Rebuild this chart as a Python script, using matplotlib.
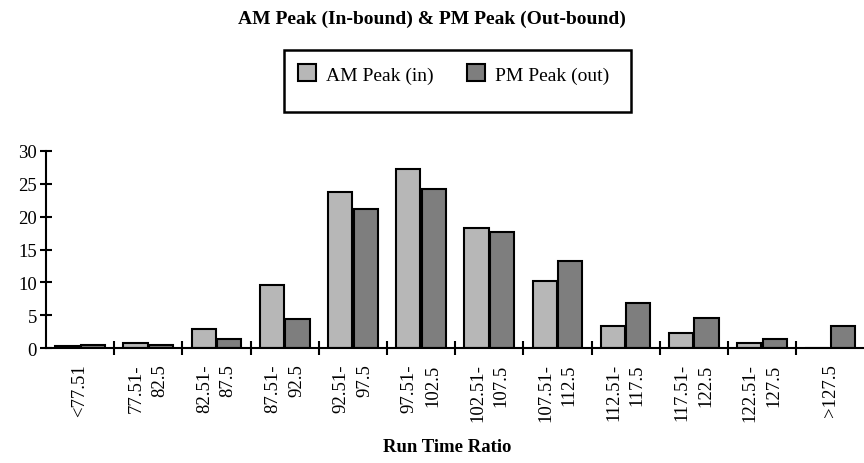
import matplotlib
matplotlib.use("Agg")
import matplotlib.pyplot as plt
from matplotlib.patches import Rectangle
import numpy as np

plt.rcParams["font.family"] = ["Liberation Serif", "DejaVu Serif"]

categories = ["<77.51", "77.51-\n82.5", "82.51-\n87.5", "87.51-\n92.5", "92.51-\n97.5",
              "97.51-\n102.5", "102.51-\n107.5", "107.51-\n112.5", "112.51-\n117.5",
              "117.51-\n122.5", "122.51-\n127.5", ">127.5"]
am_peak = [0.3, 0.8, 2.9, 9.6, 23.7, 27.3, 18.2, 10.2, 3.3, 2.3, 0.8, 0.0]
pm_peak = [0.5, 0.5, 1.4, 4.4, 21.2, 24.2, 17.6, 13.3, 6.9, 4.5, 1.4, 3.3]
yticks = [0, 5, 10, 15, 20, 25, 30]

W, H = 864, 464
fig = plt.figure(figsize=(W / 100, H / 100), dpi=100)
ax = fig.add_axes([46 / W, 1 - 349 / H, 821 / W, 197 / H])

x = np.arange(len(categories))
w = 0.355
ax.bar(x - w / 2 - 0.01, am_peak, w, color="#b7b7b7", edgecolor="black", linewidth=1.5,
       label="AM Peak (in)")
ax.bar(x + w / 2 + 0.01, pm_peak, w, color="#7e7e7e", edgecolor="black", linewidth=1.5,
       label="PM Peak (out)")

ax.set_xlim(-0.5, len(categories) - 0.5 + 0.04)
ax.set_ylim(0, 30)
ax.set_yticks(yticks)
ax.tick_params(axis="y", direction="inout", length=9, width=1.5, labelsize=13.5, pad=2)

# boundary ticks on the category edges, labels at the centres
ax.set_xticks(np.arange(0.5, len(categories) - 0.5, 1.0))
ax.set_xticklabels([])
ax.tick_params(axis="x", which="major", direction="inout", length=10, width=1.5)
ax.set_xticks(x, minor=True)
ax.set_xticklabels(categories, minor=True, rotation=90, fontsize=13.5,
                   va="top", ha="center", multialignment="right", linespacing=1.5)
ax.tick_params(axis="x", which="minor", length=0, pad=11)

for s in ["top", "right"]:
    ax.spines[s].set_visible(False)
ax.spines["left"].set_linewidth(1.5)
ax.spines["bottom"].set_linewidth(1.5)

fig.text(0.5, 1 - 19 / H, "AM Peak (In-bound) & PM Peak (Out-bound)", ha="center", va="center",
         fontsize=14, fontweight="bold")
fig.text(447 / W, 1 - 448 / H, "Run Time Ratio", ha="center", va="center",
         fontsize=13.5, fontweight="bold")

# legend box drawn separately so the entries can sit above its centre
fig.patches.append(Rectangle((284 / W, 1 - 113 / H), 347 / W, 62 / H, transform=fig.transFigure,
                             facecolor="white", edgecolor="black", linewidth=1.8))
leg = fig.legend(loc="center left", bbox_to_anchor=(298 / W, 1 - 75 / H), ncol=2,
                 fontsize=14, frameon=False, borderpad=0, borderaxespad=0,
                 handlelength=0.95, handleheight=0.95, handletextpad=0.5, columnspacing=1.7)

fig.savefig("out.png", dpi=100)
